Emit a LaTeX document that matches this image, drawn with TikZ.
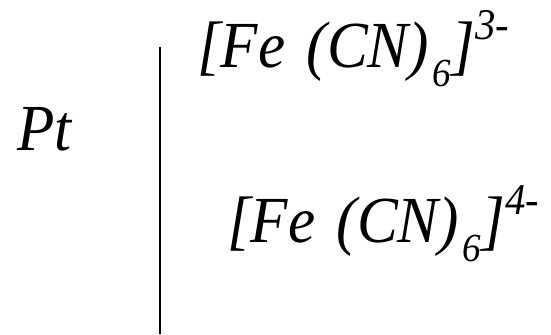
\documentclass[tikz,border=0pt]{standalone}
\usepackage{fontspec}
\setmainfont[FakeStretch=0.93]{Liberation Serif}
\newcommand\lowidx[1]{\kern3bp\raisebox{-19bp}{\fontsize{40}{40}\selectfont #1}\kern1bp}
\newcommand\highidx[1]{\raisebox{28bp}{\fontsize{44}{44}\selectfont #1}}
\tikzset{
  chem/.style={inner sep=0pt, anchor=base west, font=\fontsize{66}{76}\selectfont\itshape},
  sep/.style={line width=2.6bp, black}
}
\begin{document}
\begin{tikzpicture}[x=1bp,y=-1bp]
\useasboundingbox (0,0) rectangle (551,334);
\node[chem] (pt) at (17,150) {Pt};
\node[chem] (ox) at (197,67) {[Fe\kern6bp{} (CN)\lowidx{6}]\highidx{3-}};
\node[chem] (red) at (227,242) {[Fe\kern6bp{} (CN)\lowidx{6}]\highidx{4-}};
\coordinate (lt) at (160,47);
\coordinate (lb) at (160,334);
\draw[sep] (lt) -- (lb);
\end{tikzpicture}
\end{document}
